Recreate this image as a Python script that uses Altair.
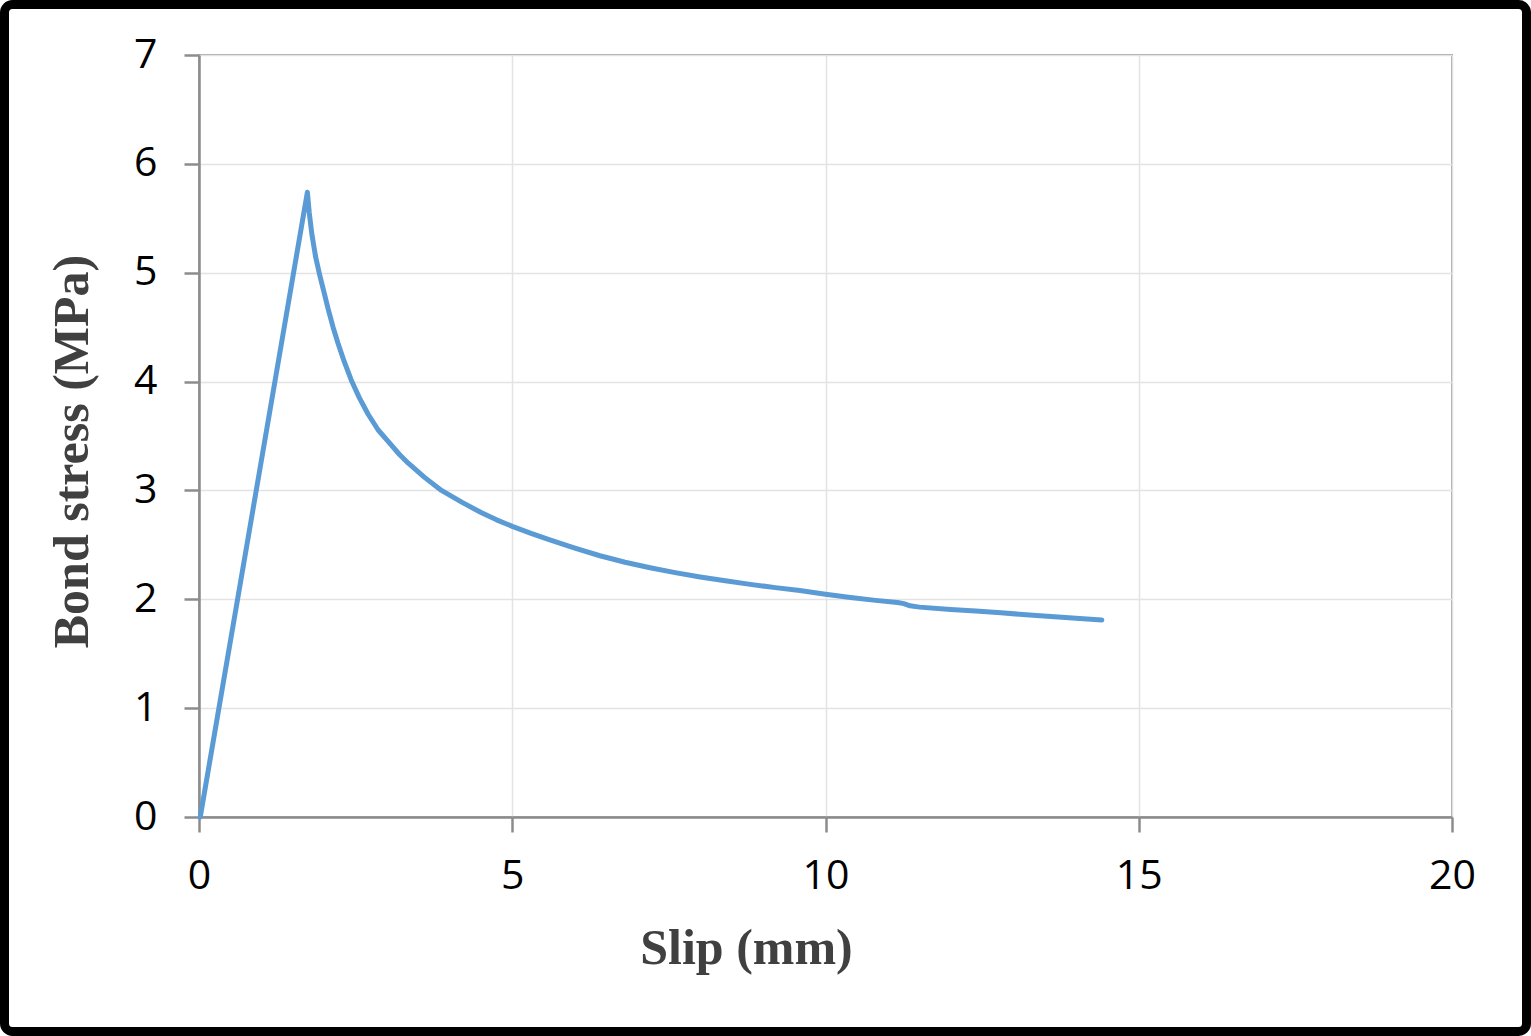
import altair as alt
import pandas as pd

# Slip (mm) and bond stress (MPa)
slip = [0.02, 1.73, 1.76, 1.80, 1.86, 1.93, 2.00, 2.06, 2.14, 2.22, 2.32, 2.44,
        2.56, 2.70, 2.86, 3.05, 3.20, 3.34, 3.60, 3.87, 4.20, 4.51, 4.75, 5.00,
        5.30, 5.60, 6.00, 6.40, 6.80, 7.20, 7.60, 8.00, 8.40, 8.80, 9.20, 9.59,
        10.00, 10.40, 10.80, 11.15, 11.25, 11.35, 11.50, 12.00, 12.40, 12.80,
        13.20, 13.60, 14.00, 14.41]
stress = [0.00, 5.74, 5.55, 5.36, 5.15, 4.97, 4.81, 4.67, 4.50, 4.35, 4.18, 4.00,
          3.85, 3.70, 3.555, 3.43, 3.33, 3.25, 3.12, 3.00, 2.89, 2.795, 2.73,
          2.67, 2.605, 2.545, 2.47, 2.40, 2.34, 2.29, 2.245, 2.205, 2.17, 2.137,
          2.107, 2.08, 2.047, 2.017, 1.99, 1.97, 1.96, 1.94, 1.928, 1.907, 1.892,
          1.876, 1.858, 1.841, 1.825, 1.81]

x_ticks = [0, 5, 10, 15, 20]
y_ticks = [0, 1, 2, 3, 4, 5, 6, 7]

df = pd.DataFrame({"slip": slip, "stress": stress, "order": list(range(len(slip)))})

W, H = 1253, 762
PAD_L, PAD_T = 199, 55
TOTAL_W, TOTAL_H = 1531, 1036

line = alt.Chart(df).mark_line(color="#5B9BD5", strokeWidth=5, strokeCap="round",
                               strokeJoin="round").encode(
    x=alt.X("slip:Q", scale=alt.Scale(domain=[0, 20], nice=False),
            axis=alt.Axis(values=x_ticks, title="Slip (mm)", titleX=547, titleY=146,
                          titleBaseline="alphabetic", labelFlush=False,
                          labelPadding=24)),
    y=alt.Y("stress:Q", scale=alt.Scale(domain=[0, 7], nice=False),
            axis=alt.Axis(values=y_ticks, title="Bond stress (MPa)", titleX=-112,
                          titleY=396, titleBaseline="alphabetic", titleAngle=-90,
                          titleAlign="center", labelFlush=False, labelPadding=27)),
    order="order:Q",
)

border = alt.Chart(pd.DataFrame({"a": [0]})).mark_rect(
    fill=None, stroke="black", strokeWidth=9, cornerRadius=8, clip=False
).encode(
    x=alt.value(-PAD_L + 4.5), x2=alt.value(TOTAL_W - PAD_L - 4.5),
    y=alt.value(-PAD_T + 4.5), y2=alt.value(TOTAL_H - PAD_T - 4.5),
)

chart = alt.layer(line, border).properties(
    width=W, height=H,
    padding={"left": PAD_L, "top": PAD_T, "right": TOTAL_W - PAD_L - W,
             "bottom": TOTAL_H - PAD_T - H},
    autosize=alt.AutoSizeParams(type="none"),
    background="white",
).configure_view(
    stroke="#a6a6a6", strokeWidth=2
).configure_axis(
    grid=True, gridColor="#e3e3e3", gridWidth=1.5,
    domainColor="#8c8c8c", domainWidth=2.5,
    tickColor="#8c8c8c", tickWidth=2.5, tickSize=15,
    labelFont="Open Sans", labelFontSize=41, labelColor="black",
    titleFont="Liberation Serif", titleFontWeight="bold", titleFontSize=50,
    titleColor="#404040",
)

chart.save("out.html", embed_options={"renderer": "svg", "actions": False})
